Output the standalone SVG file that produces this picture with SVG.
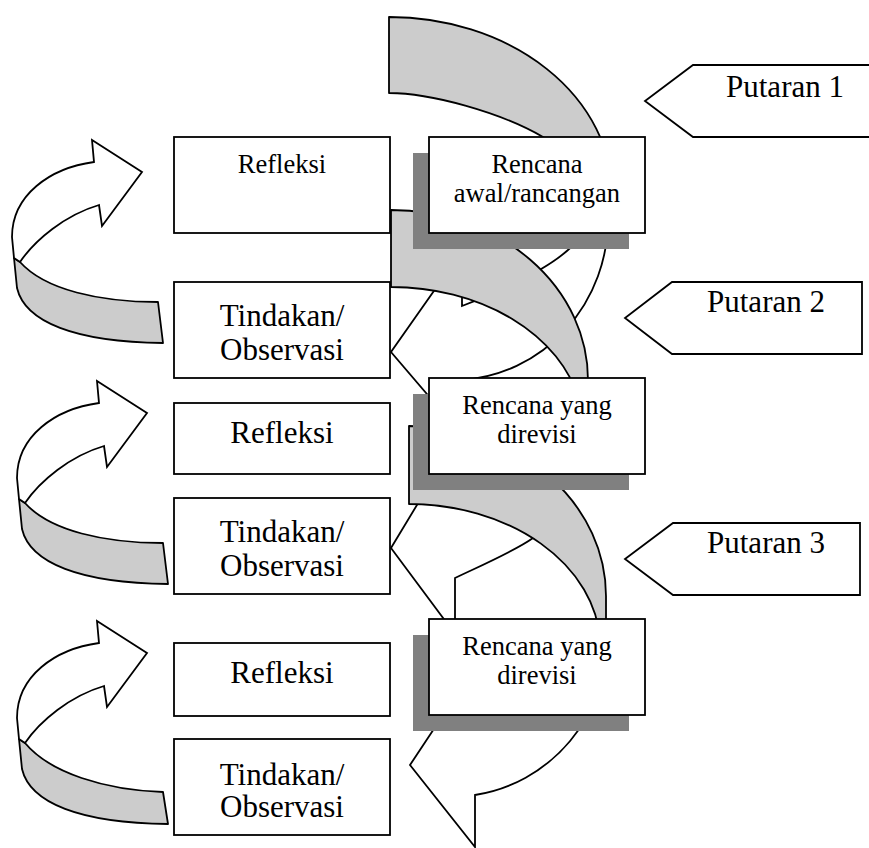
<svg xmlns="http://www.w3.org/2000/svg" width="869" height="848" viewBox="0 0 869 848">
<defs>
<style>
.box{fill:#fff;stroke:#000;stroke-width:1.8}
.shadow{fill:#808080;stroke:none}
.grey{fill:#cccccc;stroke:#000;stroke-width:1.8;stroke-linejoin:round}
.white{fill:#fff;stroke:#000;stroke-width:1.8;stroke-linejoin:miter}
text{font-family:"Liberation Serif","Times New Roman",serif;fill:#000;text-anchor:middle}
.big{font-size:31px}
.small{font-size:26.5px}
</style>
</defs>
<rect x="0" y="0" width="869" height="848" fill="#fff"/>
<g id="connectors">
  <g id="spiral-1">
    <path class="grey" d="M389,17 A223 177 0 0 1 612,194 L600,220 C590,180 570,153 543,137 C500,112 430,93 389,93 Z"/>
    <path class="white" d="M600,205 L608,219 A156 161 0 0 1 462,380 L462,435 L391,352 L462,251 L462,306 C485,297 540,275 568,250 C580,240 590,226 594,212 Z"/>
  </g>
  <g id="spiral-2">
    <path class="grey" d="M391,210 A197 170 0 0 1 588,380 L588,400 L579,400 A192 143 0 0 0 391,287 Z"/>
    <path class="white" d="M590,400 L575,430 C572,478 552,515 533,538 C515,551 480,566 455,578 L455,634 L391,548 L455,442 L455,501 C490,490 540,470 570,420 Z"/>
  </g>
  <g id="spiral-3">
    <path class="grey" d="M409,426 A197 170 0 0 1 606,596 L606,640 L600,640 A192 143 0 0 0 409,504 Z"/>
    <path class="white" d="M600,650 L608,636 A156 161 0 0 1 475,795 L475,847 L410,765 L475,667 L475,713 C510,700 560,680 590,655 Z"/>
  </g>
  <g id="loop-1">
    <path class="grey" d="M14,258 L17,288 C25,322 75,342 163,343 L158,302 C100,302 45,290 20,262 Z"/>
    <path class="white" d="M94,162 C50,168 12,195 12,237 L14,258 L20,262 C35,240 65,215 99,205 L102,226 L142,172 L92,140 Z"/>
  </g>
  <g id="loop-2" transform="translate(5,241)">
    <path class="grey" d="M14,258 L17,288 C25,322 75,342 163,343 L158,302 C100,302 45,290 20,262 Z"/>
    <path class="white" d="M94,162 C50,168 12,195 12,237 L14,258 L20,262 C35,240 65,215 99,205 L102,226 L142,172 L92,140 Z"/>
  </g>
  <g id="loop-3" transform="translate(5,481)">
    <path class="grey" d="M14,258 L17,288 C25,322 75,342 163,343 L158,311 C100,309 45,292 20,262 Z"/>
    <path class="white" d="M94,162 C50,168 12,195 12,237 L14,258 L20,262 C35,240 65,215 99,205 L102,226 L142,172 L92,140 Z"/>
  </g>
</g>
<g id="refleksi-1">
  <rect class="box" x="174" y="137" width="216" height="96"/>
  <text class="small" x="282" y="173">Refleksi</text>
</g>
<g id="tindakan-1">
  <rect class="box" x="174" y="282" width="216" height="96"/>
  <text class="big" x="282" y="326">Tindakan/</text>
  <text class="big" x="282" y="360">Observasi</text>
</g>
<g id="refleksi-2">
  <rect class="box" x="174" y="403" width="216" height="71"/>
  <text class="big" x="282" y="443">Refleksi</text>
</g>
<g id="tindakan-2">
  <rect class="box" x="174" y="498" width="216" height="96"/>
  <text class="big" x="282" y="542">Tindakan/</text>
  <text class="big" x="282" y="576">Observasi</text>
</g>
<g id="refleksi-3">
  <rect class="box" x="174" y="643" width="216" height="73"/>
  <text class="big" x="282" y="683">Refleksi</text>
</g>
<g id="tindakan-3">
  <rect class="box" x="174" y="739" width="216" height="96"/>
  <text class="big" x="282" y="785">Tindakan/</text>
  <text class="big" x="282" y="817">Observasi</text>
</g>
<g id="rencana-awal">
  <rect class="shadow" x="413" y="153" width="216" height="96"/>
  <rect class="box" x="429" y="137" width="216" height="96"/>
  <text class="small" x="537" y="173">Rencana</text>
  <text class="small" x="537" y="202">awal/rancangan</text>
</g>
<g id="rencana-revisi-1">
  <rect class="shadow" x="413" y="394" width="216" height="96"/>
  <rect class="box" x="429" y="378" width="216" height="96"/>
  <text class="small" x="537" y="414">Rencana yang</text>
  <text class="small" x="537" y="443">direvisi</text>
</g>
<g id="rencana-revisi-2">
  <rect class="shadow" x="413" y="635" width="216" height="96"/>
  <rect class="box" x="429" y="619" width="216" height="96"/>
  <text class="small" x="537" y="655">Rencana yang</text>
  <text class="small" x="537" y="684">direvisi</text>
</g>
<g id="putaran-1">
  <polygon class="box" points="900,65 693,65 645,101 693,137 900,137"/>
  <text class="big" x="785" y="97">Putaran 1</text>
</g>
<g id="putaran-2">
  <polygon class="box" points="862,282 672,282 625,318 672,354 862,354"/>
  <text class="big" x="766" y="312">Putaran 2</text>
</g>
<g id="putaran-3">
  <polygon class="box" points="860,523 673,523 625,559 673,595 860,595"/>
  <text class="big" x="766" y="553">Putaran 3</text>
</g>
</svg>
